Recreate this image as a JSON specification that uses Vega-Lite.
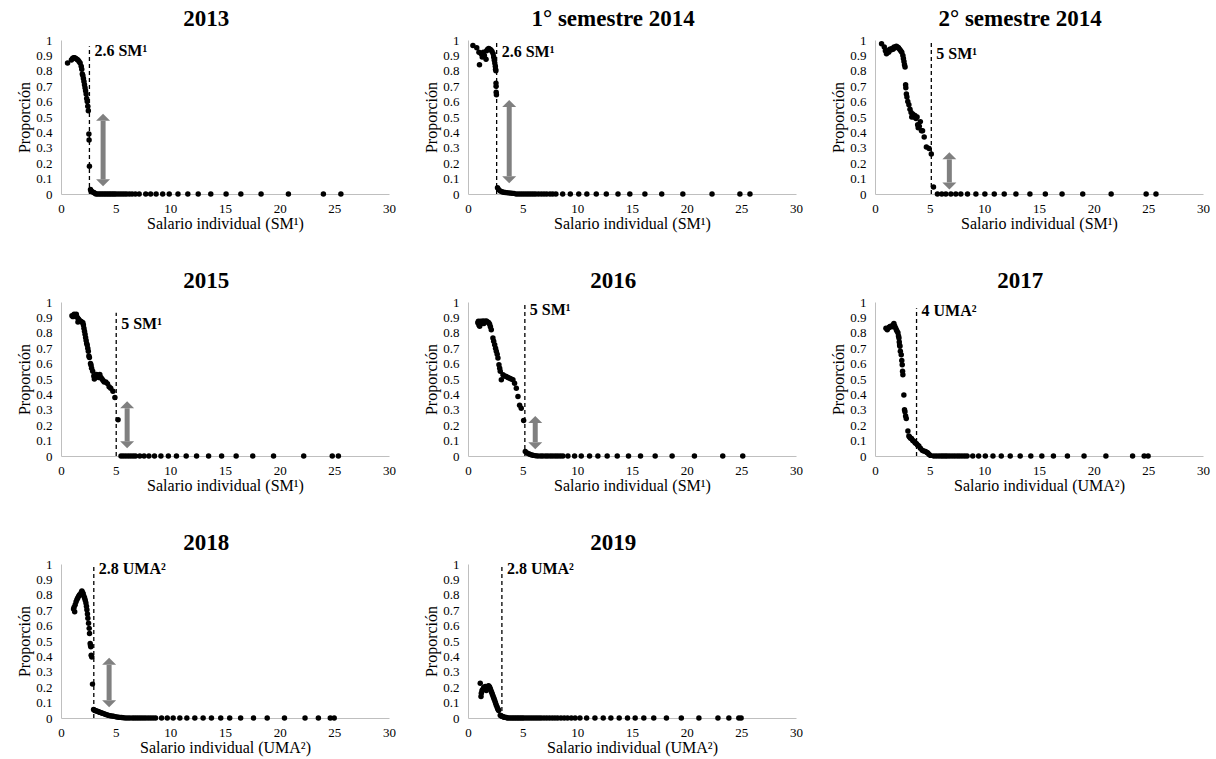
{
"$schema":"https://vega.github.io/schema/vega-lite/v6.json",
"padding":{"left":16,"top":8,"right":5,"bottom":2},
"background":"white",
"datasets":{
"d1":[{"x":0.6,"y":0.85},{"x":0.95,"y":0.87},{"x":1.05,"y":0.88},{"x":1.15,"y":0.885},{"x":1.25,"y":0.885},{"x":1.35,"y":0.88},{"x":1.45,"y":0.875},{"x":1.55,"y":0.87},{"x":1.65,"y":0.86},{"x":1.75,"y":0.85},{"x":1.85,"y":0.83},{"x":1.9,"y":0.81},{"x":1.95,"y":0.78},{"x":2.0,"y":0.77},{"x":2.05,"y":0.75},{"x":2.1,"y":0.73},{"x":2.15,"y":0.71},{"x":2.2,"y":0.69},{"x":2.25,"y":0.67},{"x":2.3,"y":0.65},{"x":2.35,"y":0.62},{"x":2.4,"y":0.6},{"x":2.45,"y":0.57},{"x":2.5,"y":0.54},{"x":2.55,"y":0.39},{"x":2.57,"y":0.35},{"x":2.6,"y":0.18},{"x":2.7,"y":0.03},{"x":2.75,"y":0.02},{"x":2.85,"y":0.015},{"x":3.0,"y":0.01},{"x":3.1,"y":0.005},{"x":3.2,"y":0},{"x":3.35,"y":0},{"x":3.5,"y":0},{"x":3.65,"y":0},{"x":3.8,"y":0},{"x":3.95,"y":0},{"x":4.1,"y":0},{"x":4.25,"y":0},{"x":4.4,"y":0},{"x":4.55,"y":0},{"x":4.7,"y":0},{"x":4.85,"y":0},{"x":5.0,"y":0},{"x":5.2,"y":0},{"x":5.4,"y":0},{"x":5.6,"y":0},{"x":5.8,"y":0},{"x":6.0,"y":0},{"x":6.25,"y":0},{"x":6.5,"y":0},{"x":6.8,"y":0},{"x":7.15,"y":0},{"x":7.75,"y":0},{"x":8.2,"y":0},{"x":8.7,"y":0},{"x":9.3,"y":0},{"x":9.9,"y":0},{"x":10.7,"y":0},{"x":11.6,"y":0},{"x":12.55,"y":0},{"x":13.7,"y":0},{"x":15.1,"y":0},{"x":16.45,"y":0},{"x":18.3,"y":0},{"x":20.8,"y":0},{"x":24.0,"y":0},{"x":25.6,"y":0}],
"d2":[{"x":0.45,"y":0.965},{"x":0.8,"y":0.95},{"x":1.0,"y":0.92},{"x":1.05,"y":0.84},{"x":1.2,"y":0.91},{"x":1.3,"y":0.89},{"x":1.4,"y":0.92},{"x":1.5,"y":0.9},{"x":1.65,"y":0.875},{"x":1.7,"y":0.93},{"x":1.8,"y":0.94},{"x":1.9,"y":0.945},{"x":2.0,"y":0.94},{"x":2.1,"y":0.935},{"x":2.2,"y":0.925},{"x":2.3,"y":0.91},{"x":2.35,"y":0.89},{"x":2.4,"y":0.87},{"x":2.45,"y":0.85},{"x":2.5,"y":0.83},{"x":2.52,"y":0.81},{"x":2.55,"y":0.8},{"x":2.56,"y":0.72},{"x":2.57,"y":0.7},{"x":2.58,"y":0.66},{"x":2.6,"y":0.645},{"x":2.7,"y":0.04},{"x":2.8,"y":0.03},{"x":2.95,"y":0.02},{"x":3.1,"y":0.015},{"x":3.25,"y":0.012},{"x":3.4,"y":0.01},{"x":3.6,"y":0.008},{"x":3.8,"y":0.006},{"x":4.0,"y":0.005},{"x":4.2,"y":0.004},{"x":4.4,"y":0},{"x":4.6,"y":0},{"x":4.8,"y":0},{"x":5.0,"y":0},{"x":5.2,"y":0},{"x":5.4,"y":0},{"x":5.6,"y":0},{"x":5.8,"y":0},{"x":6.0,"y":0},{"x":6.2,"y":0},{"x":6.45,"y":0},{"x":6.7,"y":0},{"x":6.95,"y":0},{"x":7.2,"y":0},{"x":7.5,"y":0},{"x":7.75,"y":0},{"x":8.04,"y":0},{"x":8.66,"y":0},{"x":9.36,"y":0},{"x":10.13,"y":0},{"x":10.87,"y":0},{"x":11.73,"y":0},{"x":12.65,"y":0},{"x":13.72,"y":0},{"x":14.8,"y":0},{"x":16.18,"y":0},{"x":17.72,"y":0},{"x":19.65,"y":0},{"x":22.32,"y":0},{"x":24.87,"y":0},{"x":25.79,"y":0}],
"d3":[{"x":0.6,"y":0.975},{"x":0.85,"y":0.955},{"x":0.95,"y":0.93},{"x":1.05,"y":0.91},{"x":1.15,"y":0.93},{"x":1.25,"y":0.92},{"x":1.35,"y":0.94},{"x":1.45,"y":0.935},{"x":1.55,"y":0.945},{"x":1.65,"y":0.94},{"x":1.75,"y":0.955},{"x":1.85,"y":0.95},{"x":1.95,"y":0.96},{"x":2.05,"y":0.955},{"x":2.15,"y":0.95},{"x":2.25,"y":0.94},{"x":2.35,"y":0.93},{"x":2.45,"y":0.92},{"x":2.55,"y":0.9},{"x":2.6,"y":0.88},{"x":2.65,"y":0.86},{"x":2.7,"y":0.84},{"x":2.75,"y":0.825},{"x":2.8,"y":0.71},{"x":2.82,"y":0.69},{"x":2.87,"y":0.65},{"x":2.92,"y":0.63},{"x":3.0,"y":0.6},{"x":3.1,"y":0.58},{"x":3.2,"y":0.55},{"x":3.3,"y":0.53},{"x":3.36,"y":0.5},{"x":3.45,"y":0.52},{"x":3.55,"y":0.5},{"x":3.65,"y":0.51},{"x":3.75,"y":0.49},{"x":3.85,"y":0.5},{"x":3.9,"y":0.45},{"x":3.95,"y":0.43},{"x":4.05,"y":0.44},{"x":4.15,"y":0.47},{"x":4.25,"y":0.41},{"x":4.35,"y":0.41},{"x":4.5,"y":0.37},{"x":4.7,"y":0.305},{"x":4.95,"y":0.295},{"x":5.15,"y":0.26},{"x":5.35,"y":0.045},{"x":5.71,"y":0},{"x":6.11,"y":0},{"x":6.48,"y":0},{"x":6.94,"y":0},{"x":7.39,"y":0},{"x":7.85,"y":0},{"x":8.46,"y":0},{"x":9.23,"y":0},{"x":10.05,"y":0},{"x":10.91,"y":0},{"x":11.82,"y":0},{"x":12.89,"y":0},{"x":14.17,"y":0},{"x":15.58,"y":0},{"x":17.11,"y":0},{"x":19.0,"y":0},{"x":21.6,"y":0},{"x":24.8,"y":0},{"x":25.7,"y":0}],
"d4":[{"x":1.0,"y":0.91},{"x":1.1,"y":0.905},{"x":1.2,"y":0.92},{"x":1.3,"y":0.91},{"x":1.4,"y":0.92},{"x":1.5,"y":0.9},{"x":1.55,"y":0.87},{"x":1.6,"y":0.89},{"x":1.7,"y":0.88},{"x":1.8,"y":0.875},{"x":1.9,"y":0.87},{"x":2.0,"y":0.865},{"x":2.05,"y":0.85},{"x":2.1,"y":0.83},{"x":2.15,"y":0.81},{"x":2.2,"y":0.79},{"x":2.25,"y":0.77},{"x":2.3,"y":0.75},{"x":2.35,"y":0.73},{"x":2.4,"y":0.72},{"x":2.45,"y":0.7},{"x":2.5,"y":0.68},{"x":2.55,"y":0.65},{"x":2.6,"y":0.64},{"x":2.7,"y":0.6},{"x":2.75,"y":0.59},{"x":2.8,"y":0.57},{"x":2.9,"y":0.55},{"x":3.0,"y":0.52},{"x":3.05,"y":0.5},{"x":3.15,"y":0.51},{"x":3.25,"y":0.53},{"x":3.35,"y":0.52},{"x":3.45,"y":0.51},{"x":3.55,"y":0.53},{"x":3.65,"y":0.51},{"x":3.75,"y":0.5},{"x":3.85,"y":0.49},{"x":3.95,"y":0.48},{"x":4.1,"y":0.48},{"x":4.25,"y":0.47},{"x":4.4,"y":0.45},{"x":4.55,"y":0.44},{"x":4.75,"y":0.42},{"x":4.93,"y":0.38},{"x":5.22,"y":0.235},{"x":5.49,"y":0},{"x":5.7,"y":0},{"x":5.93,"y":0},{"x":6.15,"y":0},{"x":6.38,"y":0},{"x":6.6,"y":0},{"x":6.82,"y":0},{"x":7.21,"y":0},{"x":7.6,"y":0},{"x":8.04,"y":0},{"x":8.55,"y":0},{"x":9.14,"y":0},{"x":9.82,"y":0},{"x":10.56,"y":0},{"x":11.45,"y":0},{"x":12.4,"y":0},{"x":13.5,"y":0},{"x":14.69,"y":0},{"x":16.02,"y":0},{"x":17.54,"y":0},{"x":19.44,"y":0},{"x":22.2,"y":0},{"x":24.81,"y":0},{"x":25.37,"y":0}],
"d5":[{"x":0.9,"y":0.865},{"x":0.95,"y":0.875},{"x":1.0,"y":0.85},{"x":1.07,"y":0.843},{"x":1.15,"y":0.875},{"x":1.25,"y":0.86},{"x":1.37,"y":0.876},{"x":1.45,"y":0.86},{"x":1.55,"y":0.875},{"x":1.68,"y":0.876},{"x":1.8,"y":0.87},{"x":1.9,"y":0.865},{"x":1.98,"y":0.855},{"x":2.05,"y":0.84},{"x":2.13,"y":0.82},{"x":2.28,"y":0.766},{"x":2.35,"y":0.745},{"x":2.44,"y":0.723},{"x":2.52,"y":0.7},{"x":2.59,"y":0.68},{"x":2.67,"y":0.66},{"x":2.74,"y":0.636},{"x":2.83,"y":0.593},{"x":2.9,"y":0.57},{"x":2.95,"y":0.55},{"x":3.05,"y":0.495},{"x":3.2,"y":0.527},{"x":3.35,"y":0.52},{"x":3.5,"y":0.516},{"x":3.65,"y":0.51},{"x":3.81,"y":0.505},{"x":3.95,"y":0.5},{"x":4.11,"y":0.495},{"x":4.26,"y":0.473},{"x":4.42,"y":0.44},{"x":4.57,"y":0.386},{"x":4.72,"y":0.33},{"x":4.87,"y":0.31},{"x":5.09,"y":0.23},{"x":5.24,"y":0.03},{"x":5.4,"y":0.02},{"x":5.55,"y":0.015},{"x":5.7,"y":0.01},{"x":5.85,"y":0.006},{"x":6.0,"y":0.004},{"x":6.2,"y":0.002},{"x":6.4,"y":0},{"x":6.65,"y":0},{"x":6.85,"y":0},{"x":7.1,"y":0},{"x":7.31,"y":0},{"x":7.55,"y":0},{"x":7.77,"y":0},{"x":8.0,"y":0},{"x":8.22,"y":0},{"x":8.45,"y":0},{"x":8.68,"y":0},{"x":9.14,"y":0},{"x":9.75,"y":0},{"x":10.36,"y":0},{"x":11.12,"y":0},{"x":11.88,"y":0},{"x":12.73,"y":0},{"x":13.65,"y":0},{"x":14.68,"y":0},{"x":15.78,"y":0},{"x":17.12,"y":0},{"x":18.67,"y":0},{"x":20.71,"y":0},{"x":23.3,"y":0},{"x":25.13,"y":0}],
"d6":[{"x":1.0,"y":0.83},{"x":1.12,"y":0.82},{"x":1.2,"y":0.83},{"x":1.28,"y":0.834},{"x":1.35,"y":0.84},{"x":1.43,"y":0.843},{"x":1.55,"y":0.84},{"x":1.65,"y":0.85},{"x":1.73,"y":0.86},{"x":1.8,"y":0.845},{"x":1.88,"y":0.832},{"x":1.95,"y":0.82},{"x":2.02,"y":0.81},{"x":2.1,"y":0.8},{"x":2.15,"y":0.78},{"x":2.19,"y":0.767},{"x":2.22,"y":0.74},{"x":2.25,"y":0.72},{"x":2.28,"y":0.712},{"x":2.32,"y":0.68},{"x":2.4,"y":0.658},{"x":2.45,"y":0.62},{"x":2.49,"y":0.593},{"x":2.52,"y":0.55},{"x":2.55,"y":0.527},{"x":2.64,"y":0.396},{"x":2.7,"y":0.3},{"x":2.74,"y":0.288},{"x":2.8,"y":0.26},{"x":2.86,"y":0.244},{"x":3.01,"y":0.163},{"x":3.1,"y":0.13},{"x":3.16,"y":0.124},{"x":3.25,"y":0.115},{"x":3.34,"y":0.113},{"x":3.45,"y":0.1},{"x":3.56,"y":0.096},{"x":3.68,"y":0.085},{"x":3.8,"y":0.08},{"x":3.9,"y":0.07},{"x":4.01,"y":0.065},{"x":4.15,"y":0.05},{"x":4.32,"y":0.037},{"x":4.45,"y":0.033},{"x":4.62,"y":0.03},{"x":4.75,"y":0.022},{"x":4.83,"y":0.02},{"x":4.95,"y":0.01},{"x":5.08,"y":0.004},{"x":5.38,"y":0},{"x":5.6,"y":0},{"x":5.84,"y":0},{"x":6.05,"y":0},{"x":6.23,"y":0},{"x":6.42,"y":0},{"x":6.6,"y":0},{"x":6.82,"y":0},{"x":7.05,"y":0},{"x":7.28,"y":0},{"x":7.51,"y":0},{"x":7.73,"y":0},{"x":7.96,"y":0},{"x":8.2,"y":0},{"x":8.42,"y":0},{"x":8.94,"y":0},{"x":9.48,"y":0},{"x":10.09,"y":0},{"x":10.79,"y":0},{"x":11.55,"y":0},{"x":12.37,"y":0},{"x":13.28,"y":0},{"x":14.25,"y":0},{"x":15.26,"y":0},{"x":16.32,"y":0},{"x":17.6,"y":0},{"x":19.12,"y":0},{"x":21.12,"y":0},{"x":23.56,"y":0},{"x":24.62,"y":0},{"x":24.98,"y":0}],
"d7":[{"x":1.15,"y":0.708},{"x":1.2,"y":0.72},{"x":1.25,"y":0.69},{"x":1.3,"y":0.736},{"x":1.38,"y":0.755},{"x":1.46,"y":0.77},{"x":1.53,"y":0.78},{"x":1.61,"y":0.79},{"x":1.7,"y":0.8},{"x":1.76,"y":0.8},{"x":1.85,"y":0.815},{"x":1.91,"y":0.824},{"x":1.97,"y":0.815},{"x":2.03,"y":0.807},{"x":2.1,"y":0.79},{"x":2.16,"y":0.78},{"x":2.22,"y":0.765},{"x":2.28,"y":0.747},{"x":2.33,"y":0.725},{"x":2.37,"y":0.703},{"x":2.42,"y":0.675},{"x":2.46,"y":0.648},{"x":2.52,"y":0.615},{"x":2.58,"y":0.582},{"x":2.61,"y":0.549},{"x":2.67,"y":0.484},{"x":2.7,"y":0.47},{"x":2.73,"y":0.462},{"x":2.76,"y":0.407},{"x":2.82,"y":0.396},{"x":2.88,"y":0.22},{"x":2.98,"y":0.055},{"x":3.05,"y":0.05},{"x":3.13,"y":0.048},{"x":3.22,"y":0.046},{"x":3.34,"y":0.044},{"x":3.43,"y":0.04},{"x":3.52,"y":0.037},{"x":3.62,"y":0.035},{"x":3.73,"y":0.033},{"x":3.85,"y":0.03},{"x":3.98,"y":0.026},{"x":4.1,"y":0.023},{"x":4.25,"y":0.02},{"x":4.37,"y":0.017},{"x":4.49,"y":0.015},{"x":4.65,"y":0.013},{"x":4.8,"y":0.011},{"x":4.95,"y":0.009},{"x":5.1,"y":0.007},{"x":5.25,"y":0.005},{"x":5.4,"y":0.004},{"x":5.55,"y":0.003},{"x":5.71,"y":0.002},{"x":5.9,"y":0},{"x":6.1,"y":0},{"x":6.3,"y":0},{"x":6.53,"y":0},{"x":6.72,"y":0},{"x":6.92,"y":0},{"x":7.12,"y":0},{"x":7.32,"y":0},{"x":7.53,"y":0},{"x":7.74,"y":0},{"x":7.97,"y":0},{"x":8.2,"y":0},{"x":8.42,"y":0},{"x":8.65,"y":0},{"x":9.2,"y":0},{"x":9.72,"y":0},{"x":10.26,"y":0},{"x":10.87,"y":0},{"x":11.51,"y":0},{"x":12.24,"y":0},{"x":13.0,"y":0},{"x":13.76,"y":0},{"x":14.61,"y":0},{"x":15.43,"y":0},{"x":16.43,"y":0},{"x":17.61,"y":0},{"x":18.86,"y":0},{"x":20.44,"y":0},{"x":22.32,"y":0},{"x":23.54,"y":0},{"x":24.63,"y":0},{"x":24.99,"y":0}],
"d8":[{"x":1.12,"y":0.225},{"x":1.19,"y":0.14},{"x":1.22,"y":0.16},{"x":1.28,"y":0.178},{"x":1.35,"y":0.185},{"x":1.43,"y":0.196},{"x":1.5,"y":0.2},{"x":1.58,"y":0.205},{"x":1.62,"y":0.19},{"x":1.67,"y":0.178},{"x":1.73,"y":0.195},{"x":1.79,"y":0.205},{"x":1.88,"y":0.21},{"x":1.93,"y":0.205},{"x":1.98,"y":0.2},{"x":2.04,"y":0.19},{"x":2.1,"y":0.178},{"x":2.16,"y":0.167},{"x":2.22,"y":0.156},{"x":2.28,"y":0.145},{"x":2.34,"y":0.133},{"x":2.4,"y":0.122},{"x":2.46,"y":0.111},{"x":2.52,"y":0.098},{"x":2.58,"y":0.084},{"x":2.65,"y":0.073},{"x":2.71,"y":0.062},{"x":2.76,"y":0.055},{"x":2.8,"y":0.049},{"x":2.95,"y":0.018},{"x":3.02,"y":0.014},{"x":3.1,"y":0.011},{"x":3.18,"y":0.009},{"x":3.25,"y":0.007},{"x":3.34,"y":0.005},{"x":3.43,"y":0.004},{"x":3.52,"y":0.003},{"x":3.6,"y":0},{"x":3.75,"y":0},{"x":3.9,"y":0},{"x":4.05,"y":0},{"x":4.2,"y":0},{"x":4.35,"y":0},{"x":4.5,"y":0},{"x":4.65,"y":0},{"x":4.8,"y":0},{"x":4.95,"y":0},{"x":5.1,"y":0},{"x":5.3,"y":0},{"x":5.5,"y":0},{"x":5.7,"y":0},{"x":5.9,"y":0},{"x":6.1,"y":0},{"x":6.3,"y":0},{"x":6.5,"y":0},{"x":6.7,"y":0},{"x":6.95,"y":0},{"x":7.2,"y":0},{"x":7.45,"y":0},{"x":7.7,"y":0},{"x":7.95,"y":0},{"x":8.2,"y":0},{"x":8.5,"y":0},{"x":8.8,"y":0},{"x":9.1,"y":0},{"x":9.45,"y":0},{"x":9.8,"y":0},{"x":10.24,"y":0},{"x":10.85,"y":0},{"x":11.61,"y":0},{"x":12.37,"y":0},{"x":13.07,"y":0},{"x":13.83,"y":0},{"x":14.59,"y":0},{"x":15.29,"y":0},{"x":16.08,"y":0},{"x":16.99,"y":0},{"x":18.15,"y":0},{"x":19.51,"y":0},{"x":21.12,"y":0},{"x":22.86,"y":0},{"x":23.86,"y":0},{"x":24.77,"y":0},{"x":24.98,"y":0}],
"refs":[{"p":1,"x":2.6,"bot":0,"top":0.96,"ty":0.93,"label":"2.6 SM¹"},{"p":2,"x":2.62,"bot":0,"top":1.0,"ty":0.92,"label":"2.6 SM¹"},{"p":3,"x":5.15,"bot":0,"top":0.98,"ty":0.91,"label":"5 SM¹"},{"p":4,"x":5.05,"bot":0,"top":0.93,"ty":0.86,"label":"5 SM¹"},{"p":5,"x":5.2,"bot":0,"top":1.0,"ty":0.95,"label":"5 SM¹"},{"p":6,"x":3.8,"bot":0,"top":0.96,"ty":0.94,"label":"4 UMA²"},{"p":7,"x":3.0,"bot":0,"top":1.0,"ty":0.97,"label":"2.8 UMA²"},{"p":8,"x":3.1,"bot":0,"top":1.0,"ty":0.97,"label":"2.8 UMA²"}],
"arrows":[{"p":1,"x":3.85,"lo":0.095,"hi":0.475},{"p":2,"x":3.77,"lo":0.115,"hi":0.565},{"p":3,"x":6.8,"lo":0.075,"hi":0.225},{"p":4,"x":6.05,"lo":0.095,"hi":0.31},{"p":5,"x":6.15,"lo":0.09,"hi":0.215},{"p":7,"x":4.4,"lo":0.115,"hi":0.345}]
},
"columns":3,
"spacing":{"row":39,"column":27},
"concat":[
{"title":"2013","width":328,"height":154,"layer":[
{"data":{"name":"d1"},"mark":{"type":"circle","size":30,"opacity":1,"color":"#000"},"encoding":{"x":{"field":"x","type":"quantitative","scale":{"domain":[0,30]},"axis":{"title":"Salario individual (SM¹)"}},"y":{"field":"y","type":"quantitative","scale":{"domain":[0,1]},"axis":{"title":"Proporción"}}}},
{"data":{"name":"refs"},"transform":[{"filter":"datum.p==1"}],"mark":{"type":"rule","strokeDash":[4,3],"strokeWidth":1.3,"color":"#000"},"encoding":{"x":{"field":"x","type":"quantitative"},"y":{"field":"bot","type":"quantitative"},"y2":{"field":"top"}}},
{"data":{"name":"refs"},"transform":[{"filter":"datum.p==1"}],"mark":{"type":"text","align":"left","baseline":"middle","dx":5,"fontSize":16,"fontWeight":"bold","color":"#000"},"encoding":{"x":{"field":"x","type":"quantitative"},"y":{"field":"ty","type":"quantitative"},"text":{"field":"label","type":"nominal"}}},
{"data":{"name":"arrows"},"transform":[{"filter":"datum.p==1"}],"mark":{"type":"rule","strokeWidth":5,"color":"#808080"},"encoding":{"x":{"field":"x","type":"quantitative"},"y":{"field":"lo","type":"quantitative"},"y2":{"field":"hi"}}},
{"data":{"name":"arrows"},"transform":[{"filter":"datum.p==1"}],"mark":{"type":"point","shape":"M-1,0L1,0L0,-1Z","size":196,"filled":true,"opacity":1,"strokeWidth":0,"color":"#808080"},"encoding":{"x":{"field":"x","type":"quantitative"},"y":{"field":"hi","type":"quantitative"}}},
{"data":{"name":"arrows"},"transform":[{"filter":"datum.p==1"}],"mark":{"type":"point","shape":"M-1,0L1,0L0,1Z","size":196,"filled":true,"opacity":1,"strokeWidth":0,"color":"#808080"},"encoding":{"x":{"field":"x","type":"quantitative"},"y":{"field":"lo","type":"quantitative"}}}
]},
{"title":"1° semestre 2014","width":328,"height":154,"layer":[
{"data":{"name":"d2"},"mark":{"type":"circle","size":30,"opacity":1,"color":"#000"},"encoding":{"x":{"field":"x","type":"quantitative","scale":{"domain":[0,30]},"axis":{"title":"Salario individual (SM¹)"}},"y":{"field":"y","type":"quantitative","scale":{"domain":[0,1]},"axis":{"title":"Proporción"}}}},
{"data":{"name":"refs"},"transform":[{"filter":"datum.p==2"}],"mark":{"type":"rule","strokeDash":[4,3],"strokeWidth":1.3,"color":"#000"},"encoding":{"x":{"field":"x","type":"quantitative"},"y":{"field":"bot","type":"quantitative"},"y2":{"field":"top"}}},
{"data":{"name":"refs"},"transform":[{"filter":"datum.p==2"}],"mark":{"type":"text","align":"left","baseline":"middle","dx":5,"fontSize":16,"fontWeight":"bold","color":"#000"},"encoding":{"x":{"field":"x","type":"quantitative"},"y":{"field":"ty","type":"quantitative"},"text":{"field":"label","type":"nominal"}}},
{"data":{"name":"arrows"},"transform":[{"filter":"datum.p==2"}],"mark":{"type":"rule","strokeWidth":5,"color":"#808080"},"encoding":{"x":{"field":"x","type":"quantitative"},"y":{"field":"lo","type":"quantitative"},"y2":{"field":"hi"}}},
{"data":{"name":"arrows"},"transform":[{"filter":"datum.p==2"}],"mark":{"type":"point","shape":"M-1,0L1,0L0,-1Z","size":196,"filled":true,"opacity":1,"strokeWidth":0,"color":"#808080"},"encoding":{"x":{"field":"x","type":"quantitative"},"y":{"field":"hi","type":"quantitative"}}},
{"data":{"name":"arrows"},"transform":[{"filter":"datum.p==2"}],"mark":{"type":"point","shape":"M-1,0L1,0L0,1Z","size":196,"filled":true,"opacity":1,"strokeWidth":0,"color":"#808080"},"encoding":{"x":{"field":"x","type":"quantitative"},"y":{"field":"lo","type":"quantitative"}}}
]},
{"title":"2° semestre 2014","width":328,"height":154,"layer":[
{"data":{"name":"d3"},"mark":{"type":"circle","size":30,"opacity":1,"color":"#000"},"encoding":{"x":{"field":"x","type":"quantitative","scale":{"domain":[0,30]},"axis":{"title":"Salario individual (SM¹)"}},"y":{"field":"y","type":"quantitative","scale":{"domain":[0,1]},"axis":{"title":"Proporción"}}}},
{"data":{"name":"refs"},"transform":[{"filter":"datum.p==3"}],"mark":{"type":"rule","strokeDash":[4,3],"strokeWidth":1.3,"color":"#000"},"encoding":{"x":{"field":"x","type":"quantitative"},"y":{"field":"bot","type":"quantitative"},"y2":{"field":"top"}}},
{"data":{"name":"refs"},"transform":[{"filter":"datum.p==3"}],"mark":{"type":"text","align":"left","baseline":"middle","dx":5,"fontSize":16,"fontWeight":"bold","color":"#000"},"encoding":{"x":{"field":"x","type":"quantitative"},"y":{"field":"ty","type":"quantitative"},"text":{"field":"label","type":"nominal"}}},
{"data":{"name":"arrows"},"transform":[{"filter":"datum.p==3"}],"mark":{"type":"rule","strokeWidth":5,"color":"#808080"},"encoding":{"x":{"field":"x","type":"quantitative"},"y":{"field":"lo","type":"quantitative"},"y2":{"field":"hi"}}},
{"data":{"name":"arrows"},"transform":[{"filter":"datum.p==3"}],"mark":{"type":"point","shape":"M-1,0L1,0L0,-1Z","size":196,"filled":true,"opacity":1,"strokeWidth":0,"color":"#808080"},"encoding":{"x":{"field":"x","type":"quantitative"},"y":{"field":"hi","type":"quantitative"}}},
{"data":{"name":"arrows"},"transform":[{"filter":"datum.p==3"}],"mark":{"type":"point","shape":"M-1,0L1,0L0,1Z","size":196,"filled":true,"opacity":1,"strokeWidth":0,"color":"#808080"},"encoding":{"x":{"field":"x","type":"quantitative"},"y":{"field":"lo","type":"quantitative"}}}
]},
{"title":"2015","width":328,"height":154,"layer":[
{"data":{"name":"d4"},"mark":{"type":"circle","size":30,"opacity":1,"color":"#000"},"encoding":{"x":{"field":"x","type":"quantitative","scale":{"domain":[0,30]},"axis":{"title":"Salario individual (SM¹)"}},"y":{"field":"y","type":"quantitative","scale":{"domain":[0,1]},"axis":{"title":"Proporción"}}}},
{"data":{"name":"refs"},"transform":[{"filter":"datum.p==4"}],"mark":{"type":"rule","strokeDash":[4,3],"strokeWidth":1.3,"color":"#000"},"encoding":{"x":{"field":"x","type":"quantitative"},"y":{"field":"bot","type":"quantitative"},"y2":{"field":"top"}}},
{"data":{"name":"refs"},"transform":[{"filter":"datum.p==4"}],"mark":{"type":"text","align":"left","baseline":"middle","dx":5,"fontSize":16,"fontWeight":"bold","color":"#000"},"encoding":{"x":{"field":"x","type":"quantitative"},"y":{"field":"ty","type":"quantitative"},"text":{"field":"label","type":"nominal"}}},
{"data":{"name":"arrows"},"transform":[{"filter":"datum.p==4"}],"mark":{"type":"rule","strokeWidth":5,"color":"#808080"},"encoding":{"x":{"field":"x","type":"quantitative"},"y":{"field":"lo","type":"quantitative"},"y2":{"field":"hi"}}},
{"data":{"name":"arrows"},"transform":[{"filter":"datum.p==4"}],"mark":{"type":"point","shape":"M-1,0L1,0L0,-1Z","size":196,"filled":true,"opacity":1,"strokeWidth":0,"color":"#808080"},"encoding":{"x":{"field":"x","type":"quantitative"},"y":{"field":"hi","type":"quantitative"}}},
{"data":{"name":"arrows"},"transform":[{"filter":"datum.p==4"}],"mark":{"type":"point","shape":"M-1,0L1,0L0,1Z","size":196,"filled":true,"opacity":1,"strokeWidth":0,"color":"#808080"},"encoding":{"x":{"field":"x","type":"quantitative"},"y":{"field":"lo","type":"quantitative"}}}
]},
{"title":"2016","width":328,"height":154,"layer":[
{"data":{"name":"d5"},"mark":{"type":"circle","size":30,"opacity":1,"color":"#000"},"encoding":{"x":{"field":"x","type":"quantitative","scale":{"domain":[0,30]},"axis":{"title":"Salario individual (SM¹)"}},"y":{"field":"y","type":"quantitative","scale":{"domain":[0,1]},"axis":{"title":"Proporción"}}}},
{"data":{"name":"refs"},"transform":[{"filter":"datum.p==5"}],"mark":{"type":"rule","strokeDash":[4,3],"strokeWidth":1.3,"color":"#000"},"encoding":{"x":{"field":"x","type":"quantitative"},"y":{"field":"bot","type":"quantitative"},"y2":{"field":"top"}}},
{"data":{"name":"refs"},"transform":[{"filter":"datum.p==5"}],"mark":{"type":"text","align":"left","baseline":"middle","dx":5,"fontSize":16,"fontWeight":"bold","color":"#000"},"encoding":{"x":{"field":"x","type":"quantitative"},"y":{"field":"ty","type":"quantitative"},"text":{"field":"label","type":"nominal"}}},
{"data":{"name":"arrows"},"transform":[{"filter":"datum.p==5"}],"mark":{"type":"rule","strokeWidth":5,"color":"#808080"},"encoding":{"x":{"field":"x","type":"quantitative"},"y":{"field":"lo","type":"quantitative"},"y2":{"field":"hi"}}},
{"data":{"name":"arrows"},"transform":[{"filter":"datum.p==5"}],"mark":{"type":"point","shape":"M-1,0L1,0L0,-1Z","size":196,"filled":true,"opacity":1,"strokeWidth":0,"color":"#808080"},"encoding":{"x":{"field":"x","type":"quantitative"},"y":{"field":"hi","type":"quantitative"}}},
{"data":{"name":"arrows"},"transform":[{"filter":"datum.p==5"}],"mark":{"type":"point","shape":"M-1,0L1,0L0,1Z","size":196,"filled":true,"opacity":1,"strokeWidth":0,"color":"#808080"},"encoding":{"x":{"field":"x","type":"quantitative"},"y":{"field":"lo","type":"quantitative"}}}
]},
{"title":"2017","width":328,"height":154,"layer":[
{"data":{"name":"d6"},"mark":{"type":"circle","size":30,"opacity":1,"color":"#000"},"encoding":{"x":{"field":"x","type":"quantitative","scale":{"domain":[0,30]},"axis":{"title":"Salario individual (UMA²)"}},"y":{"field":"y","type":"quantitative","scale":{"domain":[0,1]},"axis":{"title":"Proporción"}}}},
{"data":{"name":"refs"},"transform":[{"filter":"datum.p==6"}],"mark":{"type":"rule","strokeDash":[4,3],"strokeWidth":1.3,"color":"#000"},"encoding":{"x":{"field":"x","type":"quantitative"},"y":{"field":"bot","type":"quantitative"},"y2":{"field":"top"}}},
{"data":{"name":"refs"},"transform":[{"filter":"datum.p==6"}],"mark":{"type":"text","align":"left","baseline":"middle","dx":5,"fontSize":16,"fontWeight":"bold","color":"#000"},"encoding":{"x":{"field":"x","type":"quantitative"},"y":{"field":"ty","type":"quantitative"},"text":{"field":"label","type":"nominal"}}}
]},
{"title":"2018","width":328,"height":154,"layer":[
{"data":{"name":"d7"},"mark":{"type":"circle","size":30,"opacity":1,"color":"#000"},"encoding":{"x":{"field":"x","type":"quantitative","scale":{"domain":[0,30]},"axis":{"title":"Salario individual (UMA²)"}},"y":{"field":"y","type":"quantitative","scale":{"domain":[0,1]},"axis":{"title":"Proporción"}}}},
{"data":{"name":"refs"},"transform":[{"filter":"datum.p==7"}],"mark":{"type":"rule","strokeDash":[4,3],"strokeWidth":1.3,"color":"#000"},"encoding":{"x":{"field":"x","type":"quantitative"},"y":{"field":"bot","type":"quantitative"},"y2":{"field":"top"}}},
{"data":{"name":"refs"},"transform":[{"filter":"datum.p==7"}],"mark":{"type":"text","align":"left","baseline":"middle","dx":5,"fontSize":16,"fontWeight":"bold","color":"#000"},"encoding":{"x":{"field":"x","type":"quantitative"},"y":{"field":"ty","type":"quantitative"},"text":{"field":"label","type":"nominal"}}},
{"data":{"name":"arrows"},"transform":[{"filter":"datum.p==7"}],"mark":{"type":"rule","strokeWidth":5,"color":"#808080"},"encoding":{"x":{"field":"x","type":"quantitative"},"y":{"field":"lo","type":"quantitative"},"y2":{"field":"hi"}}},
{"data":{"name":"arrows"},"transform":[{"filter":"datum.p==7"}],"mark":{"type":"point","shape":"M-1,0L1,0L0,-1Z","size":196,"filled":true,"opacity":1,"strokeWidth":0,"color":"#808080"},"encoding":{"x":{"field":"x","type":"quantitative"},"y":{"field":"hi","type":"quantitative"}}},
{"data":{"name":"arrows"},"transform":[{"filter":"datum.p==7"}],"mark":{"type":"point","shape":"M-1,0L1,0L0,1Z","size":196,"filled":true,"opacity":1,"strokeWidth":0,"color":"#808080"},"encoding":{"x":{"field":"x","type":"quantitative"},"y":{"field":"lo","type":"quantitative"}}}
]},
{"title":"2019","width":328,"height":154,"layer":[
{"data":{"name":"d8"},"mark":{"type":"circle","size":30,"opacity":1,"color":"#000"},"encoding":{"x":{"field":"x","type":"quantitative","scale":{"domain":[0,30]},"axis":{"title":"Salario individual (UMA²)"}},"y":{"field":"y","type":"quantitative","scale":{"domain":[0,1]},"axis":{"title":"Proporción"}}}},
{"data":{"name":"refs"},"transform":[{"filter":"datum.p==8"}],"mark":{"type":"rule","strokeDash":[4,3],"strokeWidth":1.3,"color":"#000"},"encoding":{"x":{"field":"x","type":"quantitative"},"y":{"field":"bot","type":"quantitative"},"y2":{"field":"top"}}},
{"data":{"name":"refs"},"transform":[{"filter":"datum.p==8"}],"mark":{"type":"text","align":"left","baseline":"middle","dx":5,"fontSize":16,"fontWeight":"bold","color":"#000"},"encoding":{"x":{"field":"x","type":"quantitative"},"y":{"field":"ty","type":"quantitative"},"text":{"field":"label","type":"nominal"}}}
]}
],
"config":{
"font":"Liberation Serif",
"view":{"stroke":null},
"axis":{"grid":false,"ticks":false,"domainColor":"#bfbfbf","domainWidth":1,"labelFont":"Liberation Serif","labelFontSize":13,"labelColor":"#000","labelFlush":false,"labelOverlap":false,"titleFont":"Liberation Serif","titleFontSize":16,"titleFontWeight":"normal","titleColor":"#000"},
"axisX":{"tickCount":6,"labelPadding":8,"titlePadding":0},
"axisY":{"tickCount":10,"format":"~g","labelPadding":9,"titlePadding":3},
"title":{"font":"Liberation Serif","fontSize":23,"fontWeight":"bold","color":"#000","offset":3,"anchor":"middle","frame":"bounds"},
"text":{"font":"Liberation Serif"}
}
}
